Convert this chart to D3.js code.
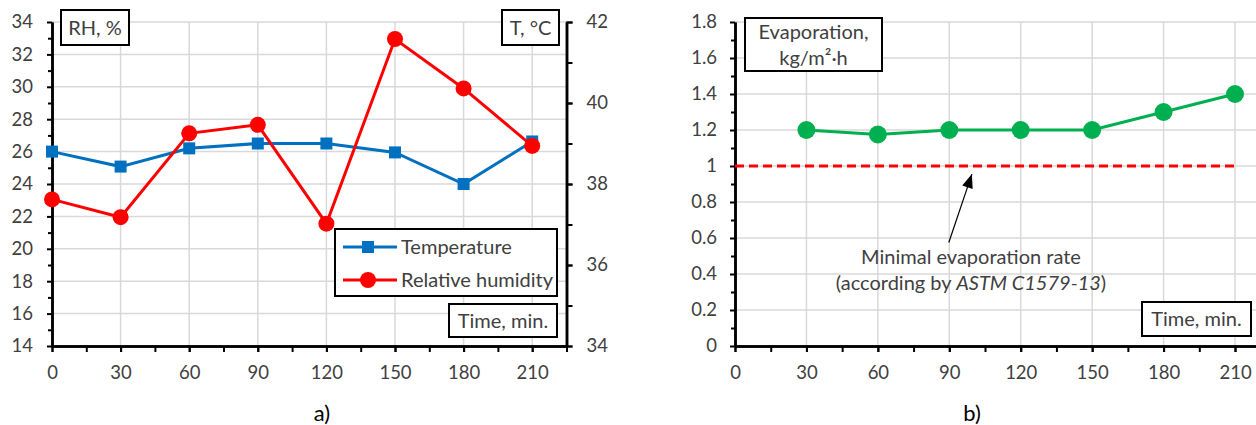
<!DOCTYPE html>
<html><head><meta charset="utf-8">
<script src="https://cdn.jsdelivr.net/npm/d3@7"></script>
<style>
body{margin:0;background:#fff;}
svg{display:block;}
text{font-family:Lato,"Open Sans",sans-serif;}
</style></head>
<body>
<svg id="c" width="1256" height="425"></svg>
<script>
// ---- data ----
const times = [0, 30, 60, 90, 120, 150, 180, 210];
const temperature = [38.8, 38.43, 38.88, 39.0, 39.0, 38.78, 38.0, 39.05];
const humidity = [23.05, 21.95, 27.13, 27.65, 21.55, 32.95, 29.9, 26.35];
const evapTimes = [30, 60, 90, 120, 150, 180, 210];
const evaporation = [1.2, 1.175, 1.2, 1.2, 1.2, 1.3, 1.4];
const minEvapRate = 1.0;
const xTicks = [0, 30, 60, 90, 120, 150, 180, 210];
const rhTicks = [14, 16, 18, 20, 22, 24, 26, 28, 30, 32, 34];
const tTicks = [34, 36, 38, 40, 42];
const evTicks = [0, 0.2, 0.4, 0.6, 0.8, 1, 1.2, 1.4, 1.6, 1.8];
const seriesNames = ["Temperature", "Relative humidity"];

const svg = d3.select("#c");
const BLUE = "#0070C0", RED = "#FF0000", GREEN = "#00B050", GRID = "#d9d9d9", TXT = "#404040";
const TICKFS = 18.5, LABFS = 20;

function box(g, x, y, w, h, lines, opts = {}) {
  g.append("rect").attr("x", x).attr("y", y).attr("width", w).attr("height", h)
    .attr("fill", "#fff").attr("stroke", "#000").attr("stroke-width", 2);
  const lh = opts.lh || 26;
  const y0 = y + h / 2 - (lines.length - 1) * lh / 2;
  lines.forEach((l, i) => {
    g.append("text").attr("x", x + w / 2).attr("y", y0 + i * lh).attr("dy", "0.35em")
      .attr("text-anchor", "middle").attr("font-size", LABFS).attr("fill", TXT).text(l);
  });
}
const ax = (sel) => { sel.select(".domain").attr("stroke", "#000").attr("stroke-width", 2.5);
  sel.selectAll(".tick line").attr("stroke", "#000").attr("stroke-width", 2);
  sel.selectAll("text").attr("font-size", TICKFS).attr("fill", TXT).attr("font-family", "Lato"); };

// ================= Panel a =================
{
  const g = svg.append("g");
  const x = d3.scaleLinear().domain([0, 225]).range([52, 566.5]);
  const yL = d3.scaleLinear().domain([14, 34]).range([346, 22]);
  const yR = d3.scaleLinear().domain([34, 42]).range([346, 22]);

  // grid
  g.append("g").selectAll("line").data(rhTicks.filter(d => d > 14)).join("line")
    .attr("x1", x(0)).attr("x2", x(225)).attr("y1", d => yL(d)).attr("y2", d => yL(d))
    .attr("stroke", GRID).attr("stroke-width", 1.5);
  g.append("g").selectAll("line").data(xTicks.filter(d => d > 0)).join("line")
    .attr("x1", d => x(d)).attr("x2", d => x(d)).attr("y1", yL(14)).attr("y2", yL(34))
    .attr("stroke", GRID).attr("stroke-width", 1.5);

  g.append("g").attr("transform", `translate(0,${yL(14)})`)
    .call(d3.axisBottom(x).tickValues(d3.range(0, 226, 15)).tickSize(6).tickFormat("").tickSizeOuter(0)).call(ax);
  g.append("g").attr("transform", `translate(0,${yL(14)})`)
    .call(d3.axisBottom(x).tickValues(xTicks).tickSize(6).tickPadding(14).tickSizeOuter(0)).call(ax);
  g.append("g").attr("transform", `translate(${x(0)},0)`)
    .call(d3.axisLeft(yL).tickValues(d3.range(15, 34, 2)).tickSize(4).tickFormat("").tickSizeOuter(0)).call(ax);
  g.append("g").attr("transform", `translate(${x(0)},0)`)
    .call(d3.axisLeft(yL).tickValues(rhTicks).tickSize(5).tickPadding(14).tickSizeOuter(0)).call(ax);
  g.append("g").attr("transform", `translate(${x(225)},0)`)
    .call(d3.axisRight(yR).tickValues(d3.range(34, 42.5, 1)).tickSize(6).tickFormat("").tickSizeOuter(0)).call(ax);
  g.append("g").attr("transform", `translate(${x(225)},0)`)
    .call(d3.axisRight(yR).tickValues(tTicks).tickSize(6).tickPadding(14).tickSizeOuter(0)).call(ax);

  // temperature
  g.append("path").datum(times.map((t, i) => [t, temperature[i]]))
    .attr("fill", "none").attr("stroke", BLUE).attr("stroke-width", 3)
    .attr("d", d3.line().x(d => x(d[0])).y(d => yR(d[1])));
  g.append("g").selectAll("rect").data(times.map((t, i) => [t, temperature[i]])).join("rect")
    .attr("x", d => x(d[0]) - 6).attr("y", d => yR(d[1]) - 6).attr("width", 12).attr("height", 12)
    .attr("fill", BLUE);
  // humidity
  g.append("path").datum(times.map((t, i) => [t, humidity[i]]))
    .attr("fill", "none").attr("stroke", RED).attr("stroke-width", 3)
    .attr("d", d3.line().x(d => x(d[0])).y(d => yL(d[1])));
  g.append("g").selectAll("circle").data(times.map((t, i) => [t, humidity[i]])).join("circle")
    .attr("cx", d => x(d[0])).attr("cy", d => yL(d[1])).attr("r", 8).attr("fill", RED);

  box(g, 61, 10, 68, 35, ["RH, %"]);
  box(g, 502, 10, 57, 35, ["T, °C"]);
  box(g, 449, 304, 108, 33, ["Time, min."]);

  // legend
  g.append("rect").attr("x", 335).attr("y", 229).attr("width", 222).attr("height", 67)
    .attr("fill", "#fff").attr("stroke", "#000").attr("stroke-width", 2);
  const lg = [[BLUE, "sq", 247], [RED, "ci", 280]];
  lg.forEach((l, i) => {
    g.append("line").attr("x1", 343).attr("x2", 397).attr("y1", l[2]).attr("y2", l[2])
      .attr("stroke", l[0]).attr("stroke-width", 3);
    if (l[1] === "sq") g.append("rect").attr("x", 362).attr("y", l[2] - 6).attr("width", 12).attr("height", 12).attr("fill", l[0]);
    else g.append("circle").attr("cx", 368).attr("cy", l[2]).attr("r", 8).attr("fill", l[0]);
    g.append("text").attr("x", 401).attr("y", l[2]).attr("dy", "0.35em").attr("font-size", LABFS)
      .attr("fill", TXT).text(seriesNames[i]);
  });

  g.append("text").attr("x", 322).attr("y", 413).attr("dy", "0.35em").attr("text-anchor", "middle")
    .attr("font-family", "Liberation Serif").attr("font-size", 22).attr("fill", "#000").text("a)");
}

// ================= Panel b =================
{
  const g = svg.append("g");
  const x = d3.scaleLinear().domain([0, 225]).range([735, 735 + 225 * 71.43 / 30]);
  const y = d3.scaleLinear().domain([0, 1.8]).range([346, 22]);

  g.append("g").selectAll("line").data(evTicks.filter(d => d > 0)).join("line")
    .attr("x1", x(0)).attr("x2", x(225)).attr("y1", d => y(d)).attr("y2", d => y(d))
    .attr("stroke", GRID).attr("stroke-width", 1.5);
  g.append("g").selectAll("line").data(xTicks.filter(d => d > 0)).join("line")
    .attr("x1", d => x(d)).attr("x2", d => x(d)).attr("y1", y(0)).attr("y2", y(1.8))
    .attr("stroke", GRID).attr("stroke-width", 1.5);

  g.append("g").attr("transform", `translate(0,${y(0)})`)
    .call(d3.axisBottom(x).tickValues(d3.range(0, 226, 15)).tickSize(6).tickFormat("").tickSizeOuter(0)).call(ax);
  g.append("g").attr("transform", `translate(0,${y(0)})`)
    .call(d3.axisBottom(x).tickValues(xTicks).tickSize(6).tickPadding(14).tickSizeOuter(0)).call(ax);
  g.append("g").attr("transform", `translate(${x(0)},0)`)
    .call(d3.axisLeft(y).tickValues(d3.range(0.1, 1.8, 0.2)).tickSize(4).tickFormat("").tickSizeOuter(0)).call(ax);
  g.append("g").attr("transform", `translate(${x(0)},0)`)
    .call(d3.axisLeft(y).tickValues(evTicks).tickFormat(d3.format("~g")).tickSize(5).tickPadding(13).tickSizeOuter(0)).call(ax);

  g.append("line").attr("x1", x(0)).attr("x2", x(210)).attr("y1", y(minEvapRate)).attr("y2", y(minEvapRate))
    .attr("stroke", RED).attr("stroke-width", 3).attr("stroke-dasharray", "9,5");

  g.append("path").datum(evapTimes.map((t, i) => [t, evaporation[i]]))
    .attr("fill", "none").attr("stroke", GREEN).attr("stroke-width", 3)
    .attr("d", d3.line().x(d => x(d[0])).y(d => y(d[1])));
  g.append("g").selectAll("circle").data(evapTimes.map((t, i) => [t, evaporation[i]])).join("circle")
    .attr("cx", d => x(d[0])).attr("cy", d => y(d[1])).attr("r", 9).attr("fill", GREEN);

  // arrow annotation
  const tail = [x(89.8), y(0.575)], tip = [x(99.5), y(0.955)];
  g.append("line").attr("x1", tail[0]).attr("y1", tail[1]).attr("x2", tip[0]).attr("y2", tip[1])
    .attr("stroke", "#000").attr("stroke-width", 1.2);
  const ang = Math.atan2(tip[1] - tail[1], tip[0] - tail[0]);
  const L = 14, W = 5.5;
  const bx = tip[0] - L * Math.cos(ang), by = tip[1] - L * Math.sin(ang);
  g.append("polygon").attr("points", [
    tip, [bx + W * Math.sin(ang), by - W * Math.cos(ang)], [bx - W * Math.sin(ang), by + W * Math.cos(ang)]
  ].map(p => p.join(",")).join(" ")).attr("fill", "#000");

  g.append("text").attr("x", 971).attr("y", 257).attr("dy", "0.35em").attr("text-anchor", "middle")
    .attr("font-size", LABFS).attr("fill", TXT).text("Minimal evaporation rate");
  const t2 = g.append("text").attr("x", 971).attr("y", 283).attr("dy", "0.35em").attr("text-anchor", "middle")
    .attr("font-size", LABFS).attr("fill", TXT);
  t2.append("tspan").text("(according by ");
  t2.append("tspan").attr("font-style", "italic").text("ASTM C1579-13");
  t2.append("tspan").text(")");

  box(g, 745, 18, 137, 53, ["Evaporation,", "kg/m²·h"], { lh: 26 });
  box(g, 1142, 302, 109, 34, ["Time, min."]);

  g.append("text").attr("x", 972).attr("y", 413).attr("dy", "0.35em").attr("text-anchor", "middle")
    .attr("font-family", "Liberation Serif").attr("font-size", 22).attr("fill", "#000").text("b)");
}
</script>
</body></html>
